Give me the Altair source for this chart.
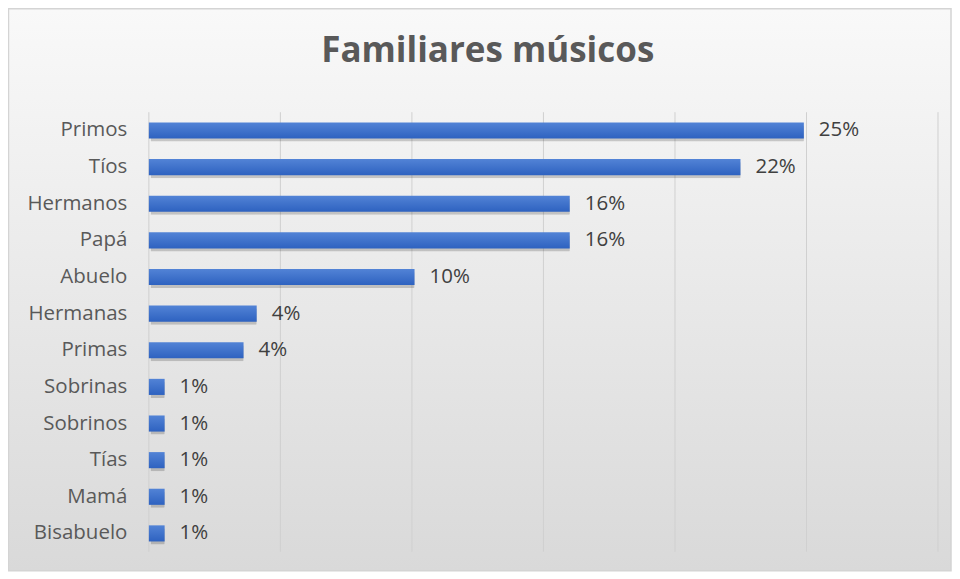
import altair as alt
import pandas as pd

categories = ["Primos", "Tíos", "Hermanos", "Papá", "Abuelo", "Hermanas",
              "Primas", "Sobrinas", "Sobrinos", "Tías", "Mamá", "Bisabuelo"]
values = [0.249, 0.2249, 0.160, 0.160, 0.101, 0.041, 0.036, 0.006, 0.006, 0.006, 0.006, 0.006]
grid_ticks = [0.0, 0.05, 0.10, 0.15, 0.20, 0.25, 0.30]

df = pd.DataFrame({"cat": categories, "val": values})
grid_df = pd.DataFrame({"t": grid_ticks})
bg_df = pd.DataFrame({"a": [0]})

W, H = 790, 440
PL, PT, PR, PB = 141, 104, 14, 20

xscale = alt.Scale(domain=[0, 0.30], nice=False)
yscale = alt.Scale(paddingInner=0.56, paddingOuter=0.28)

bg = alt.Chart(bg_df).mark_rect(
    fill=alt.Gradient(gradient="linear", x1=0, y1=0, x2=0, y2=1,
                      stops=[alt.GradientStop(offset=0, color="#f9f9f9"),
                             alt.GradientStop(offset=1, color="#d9d9d9")]),
    stroke="#d4d4d4", strokeWidth=1.5
).encode(
    x=alt.value(-PL + 0.5), x2=alt.value(W + PR - 1),
    y=alt.value(-PT + 0.5), y2=alt.value(H + PB - 1)
)

grid = alt.Chart(grid_df).mark_rule(color="#d0d0d0", strokeWidth=1).encode(
    x=alt.X("t:Q", scale=xscale)
)

y_enc = alt.Y("cat:N", sort=categories, scale=yscale, title=None,
              axis=alt.Axis(ticks=False, domain=False, labelFontSize=20.5,
                            labelColor="#595959", labelFont="Open Sans",
                            labelPadding=22, zindex=1))
x_enc = alt.X("val:Q", scale=xscale, title=None,
              axis=alt.Axis(labels=False, ticks=False, domain=False, grid=False))

shadow = alt.Chart(df).mark_bar(color="#000000", opacity=0.18, yOffset=3, xOffset=2,
                                cornerRadius=1).encode(x=x_enc, y=y_enc)

bars = alt.Chart(df).mark_bar(
    color=alt.Gradient(gradient="linear", x1=0, y1=0, x2=0, y2=1,
                       stops=[alt.GradientStop(offset=0, color="#5283d6"),
                              alt.GradientStop(offset=1, color="#2e62c0")])
).encode(x=x_enc, y=y_enc)

labels = alt.Chart(df).mark_text(align="left", baseline="middle", dx=15,
                                 fontSize=20.5, font="Open Sans", color="#404040").encode(
    x=alt.X("val:Q", scale=xscale),
    y=alt.Y("cat:N", sort=categories, scale=yscale),
    text=alt.Text("val:Q", format=".0%")
)

chart = alt.layer(bg, grid, shadow, bars, labels).properties(
    width=W, height=H,
    autosize=alt.AutoSizeParams(type="none"),
    padding={"left": PL, "top": PT, "right": PR, "bottom": PB},
    title=alt.TitleParams("Familiares músicos", font="Open Sans", fontSize=35,
                          fontWeight="bold", color="#595959", anchor="middle",
                          frame="bounds", offset=0, dy=96, dx=8, baseline="bottom",
                          zindex=1)
).configure_view(stroke=None).configure(background="#ffffff")

chart.save("out.html", embed_options={"renderer": "svg", "actions": False})
